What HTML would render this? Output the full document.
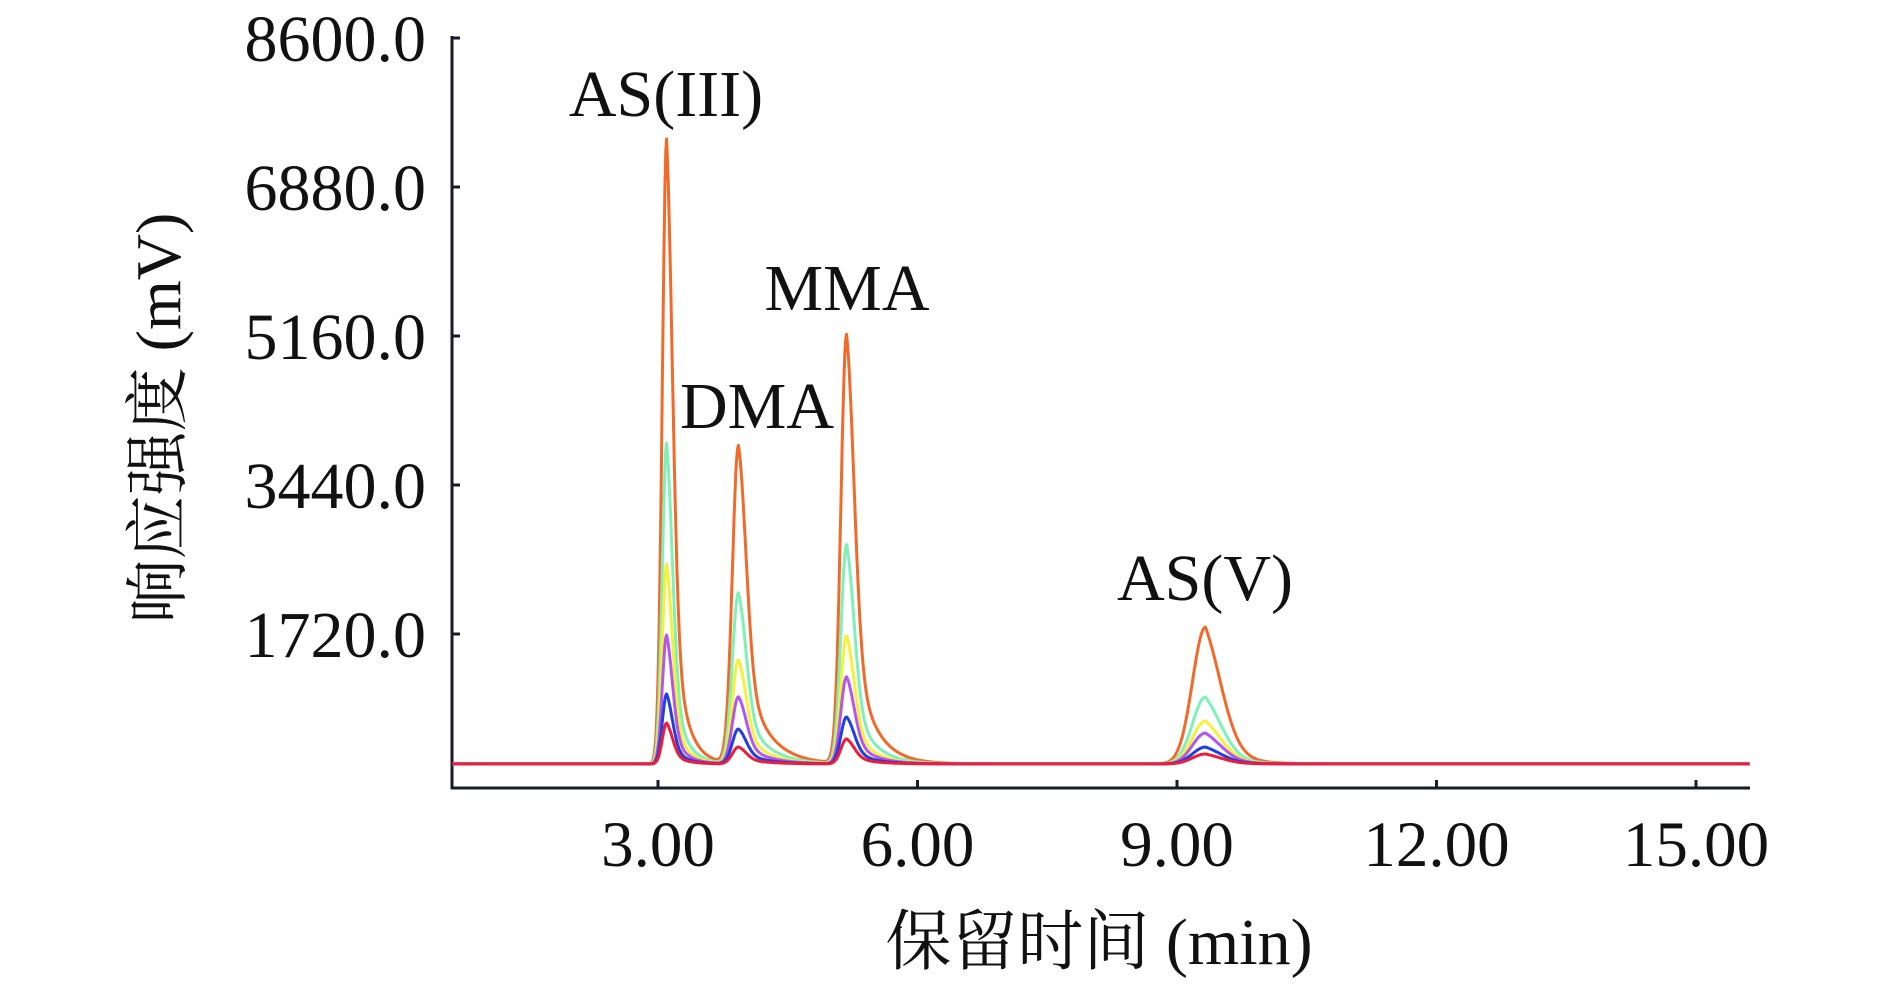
<!DOCTYPE html>
<html><head><meta charset="utf-8"><style>
html,body{margin:0;padding:0;background:#fff;}
svg{display:block;}
text{font-family:"Liberation Serif","Noto Serif CJK SC",serif;fill:#111;}
</style></head><body>
<svg id="chart" width="1890" height="985" viewBox="0 0 1890 985" xmlns="http://www.w3.org/2000/svg">
<g id="axes"></g>
<g id="series"></g>
<g id="labels"></g>
</svg>
<script>
const yTicks = [1720, 3440, 5160, 6880, 8600];
const yTickLabels = ["1720.0", "3440.0", "5160.0", "6880.0", "8600.0"];
const xTicks = [3, 6, 9, 12, 15];
const xTickLabels = ["3.00", "6.00", "9.00", "12.00", "15.00"];
const peakNames = ["AS(III)", "DMA", "MMA", "AS(V)"];
const peakTimes = [3.10, 3.93, 5.18, 9.33];
const seriesNames = ["orange", "green", "yellow", "purple", "blue", "red"];
const seriesColors = ["#f26a2a", "#7ff0b8", "#f5f03a", "#b455f0", "#1f3fe0", "#ee1c3a"];
const heightsOrange = [7434, 3890, 5171, 1800];
const heightsGreen = [3925, 2193, 2747, 993];
const heightsYellow = [2528, 1420, 1697, 716];
const heightsPurple = [1708, 993, 1224, 577];
const heightsBlue = [1027, 623, 762, 415];
const heightsRed = [693, 415, 508, 335];
const baselineValue = 220;

const svgNS = "http://www.w3.org/2000/svg";
const x0 = 398.5, pxPerMin = 86.5, y0 = 783, pxPerUnit = 149/1720;
const xS = t => x0 + t*pxPerMin;
const yS = v => y0 - v*pxPerUnit;
const tMin = 0.62, tMax = 15.62;
function mk(tag, attrs, parent){ const e=document.createElementNS(svgNS,tag); for(const k in attrs) e.setAttribute(k,attrs[k]); parent.appendChild(e); return e; }

const axes = document.getElementById('axes');
let el = mk('line',{x1:452,y1:36,x2:452,y2:789,stroke:'#1a1a28','stroke-width':3},axes);


el = mk('line',{x1:451,y1:788,x2:1750,y2:788,stroke:'#1a1a28','stroke-width':3},axes);


yTicks.forEach((v,i)=>{
  const t = mk('line',{x1:452,y1:yS(v),x2:460,y2:yS(v),stroke:'#1a1a28','stroke-width':3},axes);
  
  
  const l = mk('text',{x:426,y:yS(v)+23,'text-anchor':'end','font-size':66},axes);
  l.textContent = yTickLabels[i];
  
  
});
xTicks.forEach((v,i)=>{
  const t = mk('line',{x1:xS(v),y1:788,x2:xS(v),y2:780,stroke:'#1a1a28','stroke-width':3},axes);
  
  
  const l = mk('text',{x:xS(v),y:866,'text-anchor':'middle','font-size':65},axes);
  l.textContent = xTickLabels[i];
  
  
});

const shapes = [[0.05,0.07,0.14],[0.07,0.09,0.25],[0.065,0.09,0.22],[0.15,0.2,0.22]];
const allHeights = [heightsOrange, heightsGreen, heightsYellow, heightsPurple, heightsBlue, heightsRed];
const series = document.getElementById('series');
allHeights.forEach((hs,si)=>{
  let d = '';
  for(let t=tMin; t<=tMax; t+=0.01){
    let v = baselineValue;
    for(let p=0;p<peakTimes.length;p++){
      const h = hs[p]-baselineValue, dt = t-peakTimes[p], s = shapes[p];
      if(dt<0) v += h*Math.exp(-0.5*(dt/s[0])**2);
      else v += h*(0.6*Math.exp(-0.5*(dt/s[1])**2) + 0.4*Math.exp(-dt/s[2]));
    }
    d += (d?'L':'M') + xS(t).toFixed(1) + ',' + yS(v).toFixed(1);
  }
  const path = mk('path',{d:d,fill:'none',stroke:seriesColors[si],'stroke-width':3,'stroke-linejoin':'round'},series);
  
  
});

const labels = document.getElementById('labels');
const peakLabelPos = [[666,116],[757,428],[847,310],[1205,600]];
peakNames.forEach((n,i)=>{
  const l = mk('text',{x:peakLabelPos[i][0],y:peakLabelPos[i][1],'text-anchor':'middle','font-size':66},labels);
  l.textContent = n;
  
  
});
el = mk('text',{x:1099,y:964,'text-anchor':'middle','font-size':66},labels);
el.textContent = '保留时间 (min)';


el = mk('text',{x:0,y:0,'text-anchor':'middle','font-size':64,transform:'translate(180,418) rotate(-90)'},labels);
el.textContent = '响应强度 (mV)';


</script>
</body></html>
